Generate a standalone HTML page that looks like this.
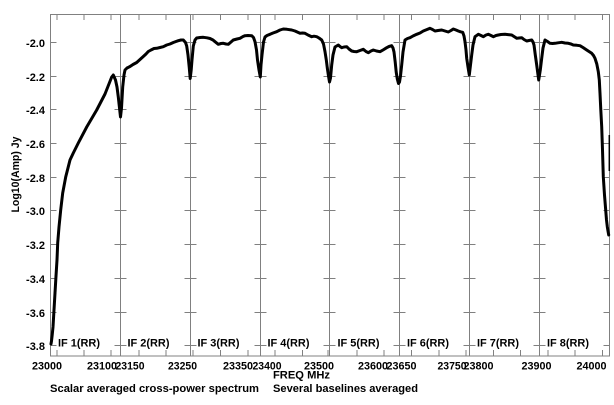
<!DOCTYPE html>
<html><head><meta charset="utf-8"><style>
html,body{margin:0;padding:0;background:#fff;}
svg{display:block;}
text{font-family:"Liberation Sans",Arial,sans-serif;font-weight:bold;font-size:11px;fill:#000;}
</style></head><body>
<svg width="614" height="405" viewBox="0 0 614 405" xmlns="http://www.w3.org/2000/svg">
<g stroke="#808080" stroke-width="1" fill="none">
<rect x="50.5" y="14.5" width="559" height="341.5"/>
<path d="M120.5 14.5V356M190.5 14.5V356M260.5 14.5V356M329.5 14.5V356M399.5 14.5V356M469.5 14.5V356M539.5 14.5V356"/>
<path d="M57 14.5v5.5M84 14.5v5.5M111 14.5v5.5M139 14.5v5.5M166 14.5v5.5M193 14.5v5.5M220.5 14.5v5.5M248 14.5v5.5M275 14.5v5.5M302.5 14.5v5.5M357 14.5v5.5M384 14.5v5.5M411.5 14.5v5.5M439 14.5v5.5M466 14.5v5.5M493.5 14.5v5.5M520.5 14.5v5.5M548 14.5v5.5M575 14.5v5.5M602.5 14.5v5.5"/>
<path d="M57 356v-6M84 356v-6M111 356v-6M139 356v-6M166 356v-6M193 356v-6M220.5 356v-6M248 356v-6M275 356v-6M302.5 356v-6M328 356v-6M357 356v-6M384 356v-6M411.5 356v-6M439 356v-6M466 356v-6M493.5 356v-6M520.5 356v-6M548 356v-6M575 356v-6M602.5 356v-6"/>
<path id="yt" d="M50.5 42.5h6M114.5 42.5h12M184.5 42.5h12M254.5 42.5h12M323.5 42.5h12M393.5 42.5h12M463.5 42.5h12M533.5 42.5h12M603.5 42.5h6
M50.5 76.5h6M114.5 76.5h12M184.5 76.5h12M254.5 76.5h12M323.5 76.5h12M393.5 76.5h12M463.5 76.5h12M533.5 76.5h12M603.5 76.5h6
M50.5 109.5h6M114.5 109.5h12M184.5 109.5h12M254.5 109.5h12M323.5 109.5h12M393.5 109.5h12M463.5 109.5h12M533.5 109.5h12M603.5 109.5h6
M50.5 143.5h6M114.5 143.5h12M184.5 143.5h12M254.5 143.5h12M323.5 143.5h12M393.5 143.5h12M463.5 143.5h12M533.5 143.5h12M603.5 143.5h6
M50.5 177.5h6M114.5 177.5h12M184.5 177.5h12M254.5 177.5h12M323.5 177.5h12M393.5 177.5h12M463.5 177.5h12M533.5 177.5h12M603.5 177.5h6
M50.5 210.5h6M114.5 210.5h12M184.5 210.5h12M254.5 210.5h12M323.5 210.5h12M393.5 210.5h12M463.5 210.5h12M533.5 210.5h12M603.5 210.5h6
M50.5 244.5h6M114.5 244.5h12M184.5 244.5h12M254.5 244.5h12M323.5 244.5h12M393.5 244.5h12M463.5 244.5h12M533.5 244.5h12M603.5 244.5h6
M50.5 278.5h6M114.5 278.5h12M184.5 278.5h12M254.5 278.5h12M323.5 278.5h12M393.5 278.5h12M463.5 278.5h12M533.5 278.5h12M603.5 278.5h6
M50.5 312.5h6M114.5 312.5h12M184.5 312.5h12M254.5 312.5h12M323.5 312.5h12M393.5 312.5h12M463.5 312.5h12M533.5 312.5h12M603.5 312.5h6
M50.5 345.5h6M114.5 345.5h12M184.5 345.5h12M254.5 345.5h12M323.5 345.5h12M393.5 345.5h12M463.5 345.5h12M533.5 345.5h12M603.5 345.5h6"/>
</g>
<path d="M609.3 135V171" stroke="#000" stroke-width="1.5"/>
<polyline fill="none" stroke="#000" stroke-width="3" stroke-linejoin="round" stroke-linecap="round" points="
51,344 51.5,341 52.2,335 53,327 54,310 55,293 56,276 57,260 57.7,243 59,227 60.7,210 62.7,193 65.7,177 70,160 73.3,153 78.3,143 86.7,127 96.7,110 105,94 111.7,77 113.3,75 115.5,80 117,87 118.3,97 119.5,108 120.5,117
121.5,108 122.7,87 124,75 125,70 127,68 130,66.5 133,64.5 136.7,62.5 140,59.5 143.3,56.5 146,54 148.3,51.5 151,50 154,48.5 156.7,48.3 160,47.5 163.3,46.7 166.7,45 170,44 173.3,42.5 176,41.5 178.3,40.7 181,40 183.3,40 185.5,42.5 186.7,46 188,55 189.2,67 190.2,78.5
191.2,70 192,60 193.3,46 195,40 196.7,38 200,37.5 203.3,37.3 207,37.8 210,38.5 213,40 215,41.7 218.3,44.3 221,43.5 223.3,43.3 226,44 228.3,44.3 231,42 233.3,40 237,39 240,38.3 243,36.5 245,35.7 248,35.5 251.7,35.7 253.5,37.5 255,41.7 256.5,50 257.5,60 259,70 260.3,77
261,65 262,55 263.5,42 265,37 267,35.5 270,34.3 273,33 276.7,31.7 280,30 283.3,29 287,29.3 291.7,30 295,31 300,33.3 302.5,33 305,33.3 308,35 311.7,36.7 314,36.2 316.7,36.7 319,38 321.7,40 323.5,44 325,51.7 326.3,60 327.3,68 328.5,76 329.5,82
330.5,78 331.7,65 333,55 335,47 338.3,45 340,46.5 341.7,47.7 344,47 346.7,46.7 349,49 351.7,51 354,51.5 356.7,51.7 360,50.5 363.3,49.3 366,51.5 368.3,52.7 371,51 373.3,50 376.5,51 380,51.7 383,50 386.7,47.7 389,46.5 391.7,45.7 393,48 394,52 395.2,62 396.2,72 397.3,79 398.5,83.5 399.5,82
400.5,76 401.7,65 403,52 405,40 407.5,38.5 410,37.7 413,36 416.7,34.3 420,33 423.3,31 427,29.5 430,28.3 432.5,29.5 435,31 438,30.5 441.7,30 445,31 448.3,32 451,30.5 453.3,29 456,30 458.3,31 460.5,31.8 462.7,32.3 464,36 465,41.7 466,50 466.7,58.3 468,67 469.3,75
470.5,65 471.7,55 473,45 475,36.7 478.3,34.3 481,35.5 483.3,36.7 486,35 488.3,34.3 491,35.5 493.3,36.7 496,35.5 498.3,35 501,34.5 505,34.3 508,34.6 511.7,35 514,36.5 516.7,38.3 519,38 521.7,37.7 524,39.5 526.7,41 529,40.5 531.7,40 533,42 534,45 535.3,55 536.7,65 538.7,80
540.3,70 541.7,58.3 543,48 545,40 547.5,41.5 550,43.3 552.5,43.5 555,43.3 558,42.8 561.7,42.3 565,43 568.3,43.3 571,44 573.3,45 577,45.3 580,45.7 583,47.5 586.7,50 589,51.5 591.7,53.3 593.5,55.5 595,58.3 596.8,64 598.3,71.7 599.3,80 600,93.3 600.8,110 601.7,126.7 602.5,150 603.3,176.7 604.5,195 605.7,210 606.5,220 607.3,226.7 608,231 608.7,235"/>
<g text-anchor="end">
<text x="45" y="47">-2.0</text>
<text x="45" y="81">-2.2</text>
<text x="45" y="114">-2.4</text>
<text x="45" y="148">-2.6</text>
<text x="45" y="182">-2.8</text>
<text x="45" y="215">-3.0</text>
<text x="45" y="249">-3.2</text>
<text x="45" y="283">-3.4</text>
<text x="45" y="317">-3.6</text>
<text x="45" y="350">-3.8</text>
</g>
<text transform="translate(19,174.5) rotate(-90)" text-anchor="middle" textLength="76" lengthAdjust="spacingAndGlyphs">Log10(Amp) Jy</text>
<g>
<text x="58" y="346.5" textLength="42" lengthAdjust="spacingAndGlyphs">IF 1(RR)</text>
<text x="127.5" y="346.5" textLength="42" lengthAdjust="spacingAndGlyphs">IF 2(RR)</text>
<text x="197.5" y="346.5" textLength="42" lengthAdjust="spacingAndGlyphs">IF 3(RR)</text>
<text x="267.5" y="346.5" textLength="42" lengthAdjust="spacingAndGlyphs">IF 4(RR)</text>
<text x="337.5" y="346.5" textLength="42" lengthAdjust="spacingAndGlyphs">IF 5(RR)</text>
<text x="407" y="346.5" textLength="42" lengthAdjust="spacingAndGlyphs">IF 6(RR)</text>
<text x="477" y="346.5" textLength="42" lengthAdjust="spacingAndGlyphs">IF 7(RR)</text>
<text x="547" y="346.5" textLength="42" lengthAdjust="spacingAndGlyphs">IF 8(RR)</text>
</g>
<g>
<text x="32" y="369.5" textLength="30" lengthAdjust="spacingAndGlyphs">23000</text>
<text x="87" y="369.5" textLength="30" lengthAdjust="spacingAndGlyphs">23100</text>
<text x="115.5" y="369.5" textLength="29" lengthAdjust="spacingAndGlyphs">23150</text>
<text x="168" y="369.5" textLength="29" lengthAdjust="spacingAndGlyphs">23250</text>
<text x="223" y="369.5" textLength="30" lengthAdjust="spacingAndGlyphs">23350</text>
<text x="252.5" y="369.5" textLength="29" lengthAdjust="spacingAndGlyphs">23400</text>
<text x="304" y="369.5" textLength="30" lengthAdjust="spacingAndGlyphs">23500</text>
<text x="358" y="369.5" textLength="30" lengthAdjust="spacingAndGlyphs">23600</text>
<text x="386.5" y="369.5" textLength="30" lengthAdjust="spacingAndGlyphs">23650</text>
<text x="437.5" y="369.5" textLength="29" lengthAdjust="spacingAndGlyphs">23750</text>
<text x="463.5" y="369.5" textLength="30" lengthAdjust="spacingAndGlyphs">23800</text>
<text x="521.5" y="369.5" textLength="30" lengthAdjust="spacingAndGlyphs">23900</text>
<text x="576.5" y="369.5" textLength="30" lengthAdjust="spacingAndGlyphs">24000</text>
</g>
<text x="273" y="378.5" textLength="57" lengthAdjust="spacingAndGlyphs">FREQ MHz</text>
<text x="50" y="392" textLength="209" lengthAdjust="spacingAndGlyphs">Scalar averaged cross-power spectrum</text>
<text x="273" y="392" textLength="145" lengthAdjust="spacingAndGlyphs">Several baselines averaged</text>
</svg>
</body></html>
